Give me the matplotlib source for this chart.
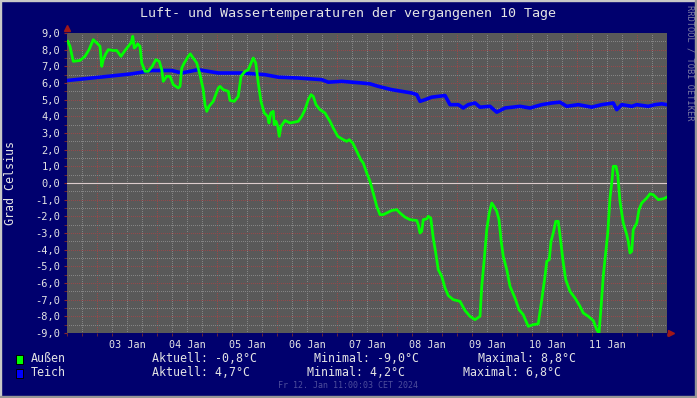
import matplotlib.pyplot as plt
import numpy as np
from matplotlib.patches import Rectangle

# Stunden seit 02 Jan 12:00, Temperatur in Grad Celsius
aussen_h = [0.3, 1.2, 2.5, 5.2, 7.2, 8.8, 10.5, 12.3, 13.2, 13.9, 14.5, 15.5, 16.5, 18.5, 19.9,
            21.6, 23.2, 24.5, 25.6, 26.3, 26.9, 27.6, 28.3, 29.2, 29.9, 31.2, 32.5, 34.1, 35.5,
            36.9, 37.9, 38.5, 39.9, 41.2, 42.5, 44.5, 45.2, 45.9, 46.9, 48.5, 49.3, 50.5, 51.9,
            53.2, 54.5, 55.2, 55.9, 56.8, 58.5, 60.5, 61.2, 62.5, 64.5, 65.2, 66.9, 68.5, 69.6,
            71.2, 72.5, 73.9, 74.5, 75.5, 76.5, 77.6, 78.9, 80.3, 80.8, 81.5, 82.5, 82.9, 83.6,
            84.3, 84.9, 85.6, 87.2, 89.2, 92.5, 93.9, 95.2, 96.5, 97.6, 98.5, 99.6, 101.2, 103.2,
            105.2, 106.5, 108.3, 110.5, 111.9, 112.9, 114.3, 115.9, 117.5, 118.5, 119.9, 121.2,
            122.5, 123.9, 125.2, 126.5, 127.9, 129.9, 131.9, 133.2, 135.2, 137.2, 139.9, 140.5,
            141.2, 141.9, 142.5, 143.9, 144.5, 145.5, 146.5, 147.5, 148.5, 149.9, 151.2, 152.5,
            154.5, 157.2, 159.2, 161.2, 163.2, 165.2, 165.9, 166.9, 167.9, 168.9, 169.9, 170.8,
            171.9, 172.8, 173.6, 174.5, 175.9, 177.2, 179.2, 180.8, 182.5, 184.5, 186.5, 188.5,
            189.9, 191.2, 191.9, 192.9, 193.6, 194.5, 195.5, 196.5, 197.5, 198.5, 199.5, 201.2,
            203.2, 205.2, 206.5, 208.5, 210.5, 211.9, 212.8, 213.6, 214.5, 215.2, 216.3, 217.2,
            217.9, 218.5, 219.6, 220.3, 221.2, 222.5, 223.9, 224.5, 225.2, 225.9, 226.5, 227.9,
            228.8, 229.9, 231.9, 233.2, 234.5, 236.5, 238.5, 239.9]
aussen_t = [8.5, 8.2, 7.3, 7.35, 7.6, 8.0, 8.6, 8.35, 8.2, 7.0, 7.4, 7.75, 8.0, 7.95, 7.95,
            7.6, 7.95, 8.2, 8.4, 8.8, 8.1, 8.2, 8.35, 8.2, 7.2, 6.7, 6.7, 7.0, 7.4,
            7.3, 6.8, 6.1, 6.4, 6.4, 5.9, 5.7, 5.8, 6.9, 7.2, 7.6, 7.75, 7.5, 7.2,
            6.5, 5.6, 4.7, 4.3, 4.6, 4.9, 5.7, 5.8, 5.6, 5.5, 4.95, 4.9, 5.2, 6.4,
            6.7, 6.8, 7.3, 7.5, 7.2, 6.0, 4.9, 4.2, 4.0, 3.6, 4.2, 4.3, 3.5, 3.7,
            3.4, 2.8, 3.4, 3.75, 3.6, 3.7, 4.0, 4.4, 5.0, 5.3, 5.2, 4.7, 4.4, 4.2,
            3.7, 3.3, 2.8, 2.6, 2.5, 2.6, 2.4, 1.9, 1.4, 1.2, 0.6, 0.1,
            -0.6, -1.4, -1.9, -1.9, -1.8, -1.65, -1.6, -1.8, -2.05, -2.2, -2.25, -2.5,
            -3.0, -2.9, -2.2, -2.15, -2.0, -2.1, -3.3, -4.2, -5.2, -5.6, -6.3, -6.75,
            -7.0, -7.1, -7.65, -8.0, -8.2, -8.0, -6.2, -4.6, -2.8, -1.8, -1.2, -1.4,
            -1.7, -2.2, -3.4, -4.4, -5.2, -6.2, -6.9, -7.6, -7.9, -8.6, -8.5, -8.45,
            -7.0, -5.6, -4.7, -4.6, -3.5, -3.0, -2.3, -2.3, -3.5, -4.8, -5.8, -6.5,
            -6.9, -7.4, -7.8, -8.0, -8.25, -8.8, -9.0, -7.5, -5.6, -4.6, -3.0, -0.9,
            0.0, 1.0, 1.0, 0.5, -1.1, -2.4, -3.1, -3.5, -4.2, -4.1, -2.8, -2.4,
            -1.6, -1.2, -0.9, -0.65, -0.7, -1.0, -0.95, -0.85]

teich_h = [0.0, 13.2, 25.9, 33.9, 41.9, 45.9, 52.5, 60.5, 69.6, 79.2, 84.5, 92.5, 101.9, 104.5,
           109.9, 117.9, 121.2, 124.5, 129.9, 137.9, 139.9, 141.2, 143.2, 145.9, 151.2, 153.2,
           156.5, 158.5, 160.5, 163.2, 165.2, 169.2, 171.9, 175.2, 181.2, 185.2, 189.9, 193.9,
           197.2, 199.9, 204.5, 209.9, 213.9, 218.5, 219.9, 221.9, 225.9, 227.9, 232.5, 235.2,
           237.9, 239.9]
teich_t = [6.15, 6.35, 6.55, 6.75, 6.75, 6.6, 6.8, 6.6, 6.6, 6.5, 6.35, 6.3, 6.2, 6.05,
           6.1, 6.0, 5.95, 5.8, 5.6, 5.4, 5.3, 4.9, 5.0, 5.15, 5.25, 4.7,
           4.7, 4.5, 4.7, 4.8, 4.55, 4.6, 4.25, 4.5, 4.6, 4.5, 4.7, 4.8,
           4.85, 4.6, 4.7, 4.55, 4.7, 4.8, 4.4, 4.7, 4.6, 4.7, 4.6, 4.7,
           4.75, 4.7]

day_labels = ["03 Jan", "04 Jan", "05 Jan", "06 Jan", "07 Jan", "08 Jan", "09 Jan", "10 Jan", "11 Jan"]
legend_names = ["Außen", "Teich"]
legend_colors = ["#00ff00", "#0000ff"]
aktuell = ["-0,8°C", "4,7°C"]
minimal = ["-9,0°C", "4,2°C"]
maximal = ["8,8°C", "6,8°C"]

plt.rcParams['font.family'] = 'DejaVu Sans Mono'
txt = '#e4e4e4'
W, H = 697, 398

fig = plt.figure(figsize=(W / 100, H / 100), dpi=100)
fig.patch.set_facecolor('#00006e')
ax = fig.add_axes([67 / W, (H - 333) / H, 600 / W, 300 / H])
ax.set_facecolor('#595959')
ax.set_xlim(0, 240)
ax.set_ylim(-9, 9)

# Gitter: rot = Tag / ganze Grad, grau = 6 Stunden / halbe Grad
red, gray = '#96484a', '#858585'
for h in np.arange(6, 240, 6):
    ax.axvline(h, color=red if (h - 12) % 24 == 0 else gray, lw=0.72, ls=(0, (1, 1.5)),
               antialiased=False, zorder=1)
for v in np.arange(-8.5, 9, 0.5):
    ax.axhline(v, color=red if v == int(v) else gray, lw=0.72, ls=(0, (1, 1.5)),
               antialiased=False, zorder=1)
ax.axhline(0, color='#dccccc', lw=0.8, zorder=2)

ax.plot(teich_h, teich_t, color=legend_colors[1], lw=2.6, zorder=3)
ax.plot(aussen_h, aussen_t, color=legend_colors[0], lw=2.0, zorder=4)

ax.set_xticks([24 * (i + 1) for i in range(len(day_labels))], day_labels)
ax.set_xticks(np.arange(0, 241, 6), minor=True)
yt = np.arange(-9, 10, 1)
ax.set_yticks(yt, [f"{v:.1f}".replace('.', ',') for v in yt])
ax.set_yticks(np.arange(-9, 9.1, 0.5), minor=True)
ax.tick_params(axis='x', which='major', length=0, pad=5, labelsize=7.3, labelcolor=txt)
ax.tick_params(axis='y', which='major', length=2, pad=3, labelsize=7.5, labelcolor=txt, color='#8c2a2a')
ax.tick_params(which='minor', length=2, color='#7a2a2a')
for s in ax.spines.values():
    s.set_visible(False)

ax.plot([0], [1.017], marker='^', ms=4, color='#a01818', transform=ax.transAxes, clip_on=False)
ax.plot([1.006], [0], marker='>', ms=4, color='#a01818', transform=ax.transAxes, clip_on=False)

fig.text(348 / W, 1 - 14 / H, "Luft- und Wassertemperaturen der vergangenen 10 Tage",
         ha='center', va='center', fontsize=9.6, color=txt)
fig.text(11 / W, 1 - 183 / H, "Grad Celsius", rotation=90, ha='center', va='center',
         fontsize=8.4, color=txt)

rows_y = [359, 373]
min_x = [314, 307]
max_x = [478, 463]
for i in range(2):
    y = 1 - rows_y[i] / H
    fig.add_artist(Rectangle((16 / W, y - 4.5 / H), 7 / W, 9 / H, facecolor=legend_colors[i],
                             edgecolor='black', lw=0.7, transform=fig.transFigure))
    fig.text(31 / W, y, legend_names[i], ha='left', va='center', fontsize=8.4, color=txt)
    fig.text(152 / W, y, "Aktuell: " + aktuell[i], ha='left', va='center', fontsize=8.4, color=txt)
    fig.text(min_x[i] / W, y, "Minimal: " + minimal[i], ha='left', va='center', fontsize=8.4, color=txt)
    fig.text(max_x[i] / W, y, "Maximal: " + maximal[i], ha='left', va='center', fontsize=8.4, color=txt)

fig.text(348 / W, 1 - 386 / H, "Fr 12. Jan 11:00:03 CET 2024", ha='center', va='center',
         fontsize=6, color='#4e4e9c')
fig.text(690 / W, 1 - 5 / H, "RRDTOOL / TOBI OETIKER", rotation=270, ha='center', va='top',
         fontsize=6.2, color='#7c7ca4')

# Rahmen
fig.add_artist(Rectangle((0, 1 - 1 / H), 1, 1 / H, color='#c8c8c8', transform=fig.transFigure))
fig.add_artist(Rectangle((0, 0), 1 / W, 1, color='#c8c8c8', transform=fig.transFigure))
fig.add_artist(Rectangle((0, 0), 1, 2 / H, color='#969696', transform=fig.transFigure))
fig.add_artist(Rectangle((1 - 2 / W, 0), 2 / W, 1, color='#969696', transform=fig.transFigure))

fig.savefig('out.png', dpi=100, facecolor=fig.get_facecolor())
